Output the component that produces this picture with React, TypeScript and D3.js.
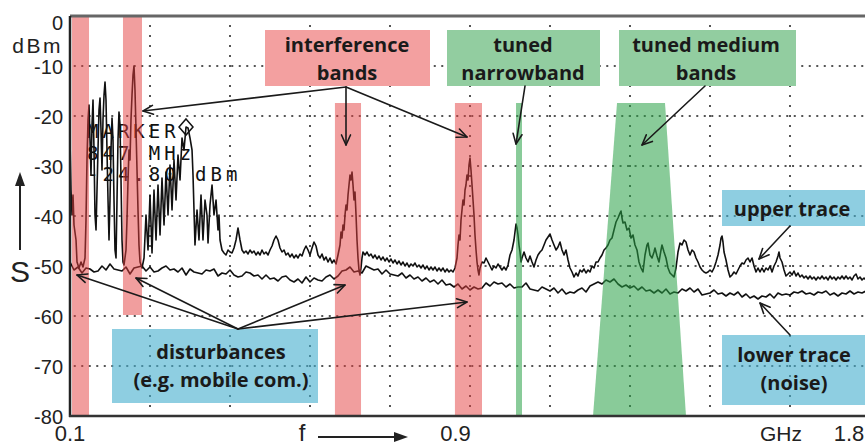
import React from "react";
import * as d3 from "d3";

// ---------- DATA ----------
// frequency in MHz, level in dBm
const upperTrace: [number, number][] = [
  [100,-24.8],[102.1,-34.8],[104.3,-39.8],[106.4,-35.8],[108.5,-41.8],[112.8,-44.8],[114.9,-49.2],[119.1,-50.4],[123.4,-49.2],[127.6,-50.2],[131.9,-48.4],[134,-40.8],
  [136.1,-28.8],[138.3,-20.8],[140.4,-17.8],[142.5,-24.8],[144.6,-31.8],[146.8,-21.8],[148.9,-16.8],[151,-26.8],[153.1,-39.8],[155.3,-42.8],[157.4,-34.8],[159.5,-26.8],
  [161.6,-18.8],[163.8,-16.4],[165.9,-22.8],[168,-30.8],[170.1,-20.8],[172.3,-15.8],[174.4,-13.2],[176.5,-16.8],[178.6,-26.8],[180.8,-36.8],[182.9,-44.8],[185,-36.8],
  [187.1,-26.8],[189.3,-20.4],[191.4,-24.8],[193.5,-36.8],[195.6,-46.8],[197.8,-48.4],[199.9,-36.8],[202,-24.8],[204.1,-19.2],[206.3,-21.8],[208.4,-32.8],[210.5,-44.8],
  [212.6,-49.2],[214.8,-49.8],[219,-46.8],[221.1,-40.8],[223.3,-32.8],[225.4,-26.8],[227.5,-28.8],[229.6,-20.8],[231.8,-15.8],[233.9,-11.8],[236,-10],[238.1,-14.8],
  [240.3,-22.8],[242.4,-30.8],[244.5,-38.8],[246.6,-45.8],[248.8,-49.2],[253,-50.4],[257.3,-48.4],[261.5,-39.8],[265.8,-46.8],[270,-35.8],[274.3,-47.4],[278.5,-34.8],
  [282.8,-44.8],[287,-33.8],[291.3,-43.8],[295.5,-32.4],[299.8,-41.8],[304,-31.2],[308.3,-39.8],[312.5,-29.8],[316.8,-38.8],[321,-28.8],[325.3,-36.8],[329.5,-27.8],
  [333.8,-32.8],[338,-24.4],[342.3,-26.8],[346.5,-22.2],[350.8,-22.4],[355,-24.4],[359.3,-26.8],[361.4,-31.8],[365.6,-45.8],[369.9,-38.8],[374.1,-44.8],[378.4,-35.8],
  [382.6,-44.8],[386.9,-36.8],[391.1,-39.8],[393.3,-45.4],[397.5,-37.8],[401.8,-33.8],[406,-39.8],[410.3,-36.8],[414.5,-42.8],[416.6,-39.8],[418.8,-44.8],[423,-46.8],
  [427.3,-47.4],[431.5,-47.8],[435.8,-46.8],[440,-47.2],[444.3,-47.4],[448.5,-46.4],
  [452.8,-44.8],[457,-42.4],[461.3,-44.8],[465.5,-46.8],[469.8,-47.4],[474,-47],[478.3,-47.6],[482.5,-46.8],[486.8,-47.4],[491,-47],[495.3,-47.8],[499.5,-47.2],
  [503.8,-47.8],[508,-46.8],[512.3,-47.6],[516.5,-47.2],[520.8,-47.8],[525,-46.8],[529.3,-46],[533.5,-44.8],[537.8,-44],[542,-44.8],[546.3,-46.4],[550.5,-47.2],
  [554.8,-46.8],[559,-47.8],[563.3,-47.4],[567.5,-48.2],[571.8,-47.6],[576,-48.4],[580.3,-47.8],[584.5,-48.4],[588.8,-47.6],[593,-48],[597.3,-46.8],[601.5,-46],
  [605.8,-46.8],[610,-47.8],[614.3,-46.4],[618.5,-45.2],[622.8,-46],[627,-47.8],[631.3,-48.4],[635.5,-47.6],[639.8,-48.8],[644,-48.2],[648.3,-49.2],[652.5,-48.4],
  [656.8,-49.4],[661,-48.8],[665.3,-49.6],[669.5,-47.8],[673.8,-45.8],[675.9,-43.2],[678,-44.4],[680.1,-41.8],[682.3,-42.8],[684.4,-39.8],[686.5,-37.8],[688.6,-38.8],
  [690.8,-35.8],[692.9,-33.8],[695,-31.8],[697.1,-32.8],[699.3,-31.2],[701.4,-33.8],[703.5,-36.8],[705.6,-35.2],[707.8,-39.8],[709.9,-44.8],[712,-48.4],[714.1,-50.8],
  [716.3,-51.8],[718.4,-50.4],[720.5,-48.4],[722.6,-47.2],[726.9,-47.8],[731.1,-47.2],[735.4,-48],[739.6,-47.6],[743.9,-48.4],[748.1,-47.8],[752.4,-48.6],[756.6,-48],
  [760.9,-48.8],[765.1,-48.2],[769.4,-49],[773.6,-48.4],[777.9,-49.2],[782.1,-48.6],[786.4,-49.4],[790.6,-48.8],[794.9,-49.6],[799.1,-49],[803.4,-49.8],[807.6,-49.2],
  [811.9,-50],[816.1,-49.4],[820.4,-50.2],[824.6,-49.6],[828.9,-50],[833.1,-49.4],[837.4,-50.2],[841.6,-49.8],[845.9,-50.4],[850.1,-49.8],[854.4,-50.6],[858.6,-50],
  [862.9,-50.8],[867.1,-50.2],[871.4,-50.8],[875.6,-50.2],[879.9,-51],[884.1,-50.4],[888.4,-51],[892.6,-50.4],[896.9,-51.2],[901.1,-50.6],[905.4,-51.2],[909.6,-50.8],
  [913.9,-51.2],[918.1,-50.4],[922.4,-48.4],[924.5,-45.8],[926.6,-43.8],[928.8,-44.8],[930.9,-40.8],[933,-38.8],[935.1,-36.8],[937.3,-37.8],[939.4,-34.8],[941.5,-33.8],
  [943.6,-31.8],[945.8,-32.8],[947.9,-29.8],[950,-28.4],[952.1,-30.8],[954.3,-33.8],[956.4,-36.8],[958.5,-39.8],[960.6,-43.8],[962.8,-46.8],[964.9,-49.2],[967,-50.8],
  [969.1,-51.8],[971.3,-50.4],[975.5,-49.2],[979.8,-49.4],[984,-48.4],[988.3,-49.2],[992.5,-50],[996.8,-50.8],[1001,-50],[1005.3,-50.4],[1009.5,-49.6],[1013.8,-50.2],
  [1018,-50.8],[1022.3,-50.2],[1026.5,-50.8],[1030.8,-49.8],[1035,-47.8],[1039.3,-46.8],[1043.5,-44.8],[1045.6,-43.2],[1047.8,-41.6],[1049.9,-42.4],[1052,-43.8],[1054.1,-45.8],
  [1056.3,-47.2],[1058.4,-49.2],[1060.5,-48.4],[1064.8,-47.2],[1069,-48.4],[1073.3,-49.2],[1077.5,-48],[1081.8,-49.2],[1086,-50.2],[1090.3,-48.8],[1094.5,-47.8],[1098.8,-47.2],
  [1103,-46.8],[1107.3,-45.8],[1111.5,-44.8],[1115.8,-44.2],[1120,-43.6],[1124.3,-44.8],[1128.5,-45.8],[1132.8,-46.8],[1137,-46.2],[1141.3,-45.2],[1145.5,-46.8],[1149.8,-47.8],
  [1154,-46.8],[1158.3,-48.8],[1162.5,-50.4],[1166.8,-51.2],[1171,-52.2],[1175.3,-51.4],[1179.5,-52],[1183.8,-50.8],[1188,-51.2],[1192.3,-50.6],[1196.5,-51.4],[1200.8,-50.8],
  [1205,-51.2],[1209.3,-50],[1213.5,-50.4],[1217.8,-49.2],[1222,-49.2],[1226.3,-48.4],[1230.5,-47.8],[1234.8,-46.8],[1239,-46.4],[1243.3,-45.8],[1247.5,-44.8],[1251.8,-44.4],
  [1256,-42.8],[1260.3,-41.2],[1264.5,-40.4],[1268.8,-39.4],[1270.9,-39],[1273,-40.4],[1275.1,-41.4],[1279.4,-41.2],[1283.6,-42.8],[1287.9,-42.4],[1292.1,-44.4],[1296.4,-43.8],
  [1300.6,-45.8],[1304.9,-46.8],[1309.1,-49.2],[1313.4,-50.4],[1317.6,-51.2],[1321.9,-47.8],[1326.1,-45.8],[1328.3,-45.4],[1332.5,-47.8],[1336.8,-48.4],[1341,-47.2],[1343.1,-46.4],
  [1347.4,-48],[1351.6,-49.2],[1355.9,-46.8],[1358,-45.8],[1362.3,-47.2],[1366.5,-48.4],[1370.8,-50.4],[1375,-51.4],[1379.3,-51.8],[1383.5,-52.2],[1387.8,-50.4],[1392,-47.2],
  [1396.3,-45.4],[1400.5,-45.8],[1404.8,-44.8],[1409,-45.2],[1413.3,-46.8],[1417.5,-47.8],[1421.8,-46.8],[1426,-47.2],[1430.3,-48.4],[1434.5,-49.2],[1438.8,-50.2],[1443,-50.8],
  [1447.3,-51.2],[1451.5,-51.4],[1455.8,-51.2],[1460,-50.8],[1464.3,-51.2],[1468.5,-50.4],[1472.8,-49.2],[1477,-47.8],[1481.3,-45.8],[1483.4,-44.4],[1485.5,-44],[1487.6,-45.2],
  [1489.8,-47.2],[1494,-48.8],[1498.3,-50.8],[1502.5,-52.2],[1506.8,-51.8],[1511,-51.2],[1515.3,-51.6],[1519.5,-50.8],[1523.8,-50],[1528,-49.4],[1532.3,-49.6],[1536.5,-48.8],
  [1540.8,-48.4],[1545,-49.2],[1549.3,-48.4],[1553.5,-50],[1557.8,-51.2],[1562,-50.4],[1566.3,-51.2],[1570.5,-50.4],[1574.8,-51.2],[1579,-50.4],[1583.3,-50.8],[1587.5,-50],
  [1591.8,-51.2],[1596,-50],[1600.3,-49.2],[1604.5,-48],[1606.6,-47.2],[1608.8,-48.4],[1613,-49.2],[1617.3,-50.8],[1621.5,-52],[1625.8,-51.6],[1630,-51.2],[1634.3,-51.8],
  [1638.5,-51],[1642.8,-52],[1647,-51.4],[1651.3,-52.2],[1655.5,-51.8],[1659.8,-52.4],[1664,-52],[1668.3,-52.6],[1672.5,-52],[1676.8,-52.6],[1681,-52.2],[1685.3,-52.8],
  [1689.5,-52.2],[1693.8,-52.6],[1698,-52],[1702.3,-52.6],[1706.5,-52.2],[1710.8,-52.8],[1715,-52],[1719.3,-52.6],[1723.5,-52.2],[1727.8,-52.8],[1732,-52.2],[1736.3,-52.6],
  [1740.5,-52],[1744.8,-52.6],[1749,-52],[1753.3,-52.6],[1757.5,-52.2],[1761.8,-52.8],[1766,-52],[1770.3,-51.6],[1774.5,-52.6],[1778.8,-52.2],[1783,-52.8],[1787.3,-52.4],
  [1791.5,-52.8],
];

// lower trace (noise): one value every 8.5 MHz starting at 100 MHz
const lowerStart = 100;
const lowerStep = 8.5;
const lowerTrace: number[] = [
  -49.2,-50.8,-50.2,-51.4,-50.4,-50.6,-51.2,-51,-50,-50.8,
  -49.6,-50.6,-50.8,-51,-50.2,-51.6,-50.4,-50.2,-50,-51,
  -50.2,-51.2,-51,-50.4,-50,-50.8,-50.6,-51.2,-50.4,-51.8,
  -50.6,-51.2,-51.4,-51.6,-50.8,-51,-50.6,-52,-51.4,-51.6,
  -50.8,-51.8,-52.2,-52,-51.2,-51.4,-52,-51.8,-52.6,-51.8,
  -52.6,-52.4,-53,-52.2,-52,-52.8,-53.2,-52.6,-53.4,-52.2,
  -53.2,-52.4,-52.8,-53,-52.2,-51.8,-52.6,-52,-51,-50.8,
  -50.2,-51.2,-51,-51.4,-50,-50.4,-50.8,-50.6,-51.6,-50.8,
  -51.6,-51.8,-52,-51.4,-52.4,-51.8,-52.6,-52.2,-53,-52.4,
  -53.2,-52.8,-53.6,-52.8,-53.8,-53.6,-54.2,-53.6,-54.6,-54,
  -54.8,-54.2,-54.6,-54.4,-53.4,-54,-53.2,-53.6,-53.4,-54.2,
  -53.6,-54.4,-54.2,-54.2,-53.4,-54.6,-54.8,-55,-54.2,-54.6,
  -55,-54.4,-55.4,-54.6,-55.6,-55.2,-55.4,-54.8,-54.4,-55.2,
  -54,-53.6,-53.2,-53.6,-52.8,-53.2,-52.6,-53.6,-54.2,-53.8,
  -54.4,-54,-54.8,-54.2,-55,-54.8,-55.4,-54.8,-55.4,-54.6,
  -55.6,-55.2,-55.4,-54.6,-55,-54.4,-55.2,-54.6,-55.8,-55.6,
  -55.4,-54.8,-55.6,-55.4,-56,-55.4,-55.8,-55.2,-56.2,-55.6,
  -56.4,-56,-56.6,-56,-56.2,-55.6,-56.4,-55.4,-55.8,-55.6,
  -55.8,-55.2,-55.4,-55,-55.6,-55.4,-55.8,-55.2,-55.4,-55,
  -55.8,-55.4,-56,-55.4,-55.6,-55,-55.6,-55.2,-55.4,-55,
];

// highlighted bands: [fStart, fEnd, topLevel] (MHz, dBm)
const interferenceBands: [number, number, number][] = [
  [104.3, 140.4, 0],
  [212.6, 253, 0],
  [663, 718.4, -17.4],
  [918, 975.5, -17.4],
];
const bandBottom: number[] = [-80, -59.8, -80, -80];
const narrowBand: [number, number, number] = [1047.8, 1060.5, -17.4];
// trapezoid: [topStart, topEnd, bottomStart, bottomEnd, topLevel]
const mediumBand: [number, number, number, number, number] = [1262.4, 1364.4, 1211.4, 1409, -17.4];

const yTicks: number[] = [0, -10, -20, -30, -40, -50, -60, -70, -80];
const xGridFreqs: number[] = [270, 440, 610, 780, 950, 1120, 1290, 1460, 1630, 1800];
const fullHGrid: number[] = [-10, -20, -40, -60, -70];
const partHGrid: number[] = [-30, -50];
const xTickLabels: [number, string][] = [[100, "0.1"], [900, "0.9"], [1800, "1.8"]];

const markerLines: string[] = ["MARKER", "847 MHz", "-24.80 dBm"];
const markerPeak: [number, number] = [346.5, -22.2];

// ---------- LAYOUT ----------
const W = 865;
const H = 446;
const x = d3.scaleLinear().domain([100, 1800]).range([70, 870]);
const y = d3.scaleLinear().domain([-80, 0]).range([416, 16]);

const RED = "#f3a0a0";
const GREEN = "#92cda0";
const BLUE = "rgba(66,173,205,0.6)";
const BAND_RED = "rgba(228,62,62,0.5)";
const BAND_GREEN = "rgba(40,160,70,0.55)";
const GRID = "#555";
const FONT = "'Open Sans', sans-serif";
const AXFONT = "'Liberation Sans', Arial, sans-serif";

type Box = { x0: number; x1: number; y0: number; y1: number; fill: string; lines: string[]; cx: number; base: number[] };
const boxes: Box[] = [
  { x0: 265, x1: 430, y0: 30, y1: 86, fill: RED, lines: ["interference", "bands"], cx: 347, base: [52, 80] },
  { x0: 447, x1: 600, y0: 30, y1: 86, fill: GREEN, lines: ["tuned", "narrowband"], cx: 523, base: [52, 80] },
  { x0: 619, x1: 796, y0: 30, y1: 86, fill: GREEN, lines: ["tuned medium", "bands"], cx: 706, base: [52, 80] },
  { x0: 722, x1: 870, y0: 190, y1: 226, fill: BLUE, lines: ["upper trace"], cx: 792, base: [216] },
  { x0: 722, x1: 870, y0: 335, y1: 405, fill: BLUE, lines: ["lower trace", "(noise)"], cx: 794, base: [362, 390] },
  { x0: 112, x1: 318, y0: 329, y1: 403, fill: BLUE, lines: ["disturbances", "(e.g. mobile com.)"], cx: 221, base: [359, 387] },
];

// arrows: [fromX, fromY, tipX, tipY]
const arrows: [number, number, number, number][] = [
  [346, 87, 143, 111],
  [346, 87, 346, 145],
  [346, 87, 467, 137],
  [525, 86, 516, 144],
  [705, 86, 642, 145],
  [790, 226, 759, 259],
  [790, 335, 760, 303],
  [238, 329, 77, 275],
  [238, 329, 136, 278],
  [238, 329, 345, 285],
  [238, 329, 467, 302],
];

function Arrow({ a }: { a: [number, number, number, number] }) {
  const [x1, y1, x2, y2] = a;
  const ang = Math.atan2(y2 - y1, x2 - x1);
  const L = 11;
  const s = 0.42;
  const p1 = [x2 - L * Math.cos(ang - s), y2 - L * Math.sin(ang - s)];
  const p2 = [x2 - L * Math.cos(ang + s), y2 - L * Math.sin(ang + s)];
  return (
    <g stroke="#1a1a1a" strokeWidth={1.6} fill="none" strokeLinecap="round" strokeLinejoin="round">
      <line x1={x1} y1={y1} x2={x2} y2={y2} />
      <polyline points={`${p1[0]},${p1[1]} ${x2},${y2} ${p2[0]},${p2[1]}`} />
    </g>
  );
}

export default function App() {
  const line = d3.line<[number, number]>().x((d) => x(d[0])).y((d) => y(d[1]));
  const lowerPts: [number, number][] = lowerTrace.map((v, i) => [lowerStart + i * lowerStep, v]);
  const upperPath = line(upperTrace) || "";
  const lowerPath = line(lowerPts) || "";
  const trap = mediumBand;
  const trapPath = `M${x(trap[0])},${y(trap[4])}L${x(trap[1])},${y(trap[4])}L${x(trap[3])},${y(-80)}L${x(trap[2])},${y(-80)}Z`;
  const mx = x(markerPeak[0]);
  const my = y(markerPeak[1]);

  return (
    <svg width={W} height={H} style={{ position: "absolute", left: 0, top: 0, background: "#fff" }}>
      <rect x={0} y={0} width={W} height={H} fill="#fff" />
      {/* grid */}
      <g stroke={GRID} strokeWidth={2}>
        {xGridFreqs.map((f) => (
          <line key={"v" + f} x1={x(f)} x2={x(f)} y1={y(-1.8)} y2={y(-79)} strokeDasharray="2,8" />
        ))}
        {fullHGrid.map((v) => (
          <line key={"h" + v} x1={x(108)} x2={W} y1={y(v)} y2={y(v)} strokeDasharray="2,5.5" />
        ))}
        {partHGrid.map((v) => (
          <line key={"p" + v} x1={x(965)} x2={W} y1={y(v)} y2={y(v)} strokeDasharray="2,5.5" />
        ))}
      </g>
      {/* marker text */}
      <g fontFamily="'DejaVu Sans Mono', monospace" fontSize={19} letterSpacing={4} fill="#111">
        {markerLines.map((t, i) => (
          <text key={t} x={87} y={138 + i * 21.5}>{t}</text>
        ))}
      </g>
      <path d={`M${mx},${my - 8} L${mx + 7},${my} L${mx},${my + 8} L${mx - 7},${my} Z`} fill="none" stroke="#111" strokeWidth={1.5} />
      {/* traces */}
      <path d={upperPath} fill="none" stroke="#111" strokeWidth={1.6} strokeLinejoin="round" />
      <path d={lowerPath} fill="none" stroke="#111" strokeWidth={1.6} strokeLinejoin="round" />
      {/* bands */}
      {interferenceBands.map((b, i) => (
        <rect key={"b" + i} x={x(b[0])} width={x(b[1]) - x(b[0])} y={y(b[2])} height={y(bandBottom[i]) - y(b[2])} fill={BAND_RED} />
      ))}
      <rect x={x(narrowBand[0])} width={x(narrowBand[1]) - x(narrowBand[0])} y={y(narrowBand[2])} height={y(-80) - y(narrowBand[2])} fill={BAND_GREEN} />
      <path d={trapPath} fill={BAND_GREEN} />
      {/* axes frame */}
      <line x1={70} x2={W} y1={y(0)} y2={y(0)} stroke="#666" strokeWidth={3} />
      <line x1={x(100)} x2={x(100)} y1={y(0)} y2={y(-80) + 1} stroke="#222" strokeWidth={2.5} />
      <line x1={69} x2={W} y1={y(-80)} y2={y(-80)} stroke="#333" strokeWidth={2.5} />
      {/* y labels */}
      <g fontFamily={AXFONT} fontSize={20} fill="#222" textAnchor="end">
        {yTicks.map((v) => (
          <text key={v} x={63} y={v === 0 ? y(v) + 13.5 : y(v) + 7.5}>{v}</text>
        ))}
        <text x={63} y={52.5} fontSize={21} letterSpacing={2.5}>dBm</text>
      </g>
      <text x={10} y={282} fontFamily={AXFONT} fontSize={30} fill="#222">S</text>
      <line x1={20} x2={20} y1={250} y2={184} stroke="#222" strokeWidth={2} />
      <path d="M20,172 L15,186 L25,186 Z" fill="#222" />
      {/* x labels */}
      <g fontFamily={AXFONT} fontSize={22} fill="#222" textAnchor="middle">
        {xTickLabels.map(([f, t]) => (
          <text key={t} x={f === 900 ? x(f) + 9 : f === 1800 ? x(f) - 21 : x(f)} y={441}>{t}</text>
        ))}
        <text x={781} y={441} fontSize={21}>GHz</text>
        <text x={302} y={441} fontSize={24}>f</text>
      </g>
      <line x1={318} x2={396} y1={437} y2={437} stroke="#222" strokeWidth={2} />
      <path d="M408,437 L394,432 L394,442 Z" fill="#222" />
      {/* annotation boxes */}
      {boxes.map((b, i) => (
        <g key={"box" + i}>
          <rect x={b.x0} y={b.y0} width={b.x1 - b.x0} height={b.y1 - b.y0} fill={b.fill} />
          {b.lines.map((t, j) => (
            <text key={t} x={b.cx} y={b.base[j]} textAnchor="middle" fontFamily={FONT} fontWeight={700} fontSize={20} fill="#1a1a1a">{t}</text>
          ))}
        </g>
      ))}
      {arrows.map((a, i) => (
        <Arrow key={"a" + i} a={a} />
      ))}
    </svg>
  );
}
